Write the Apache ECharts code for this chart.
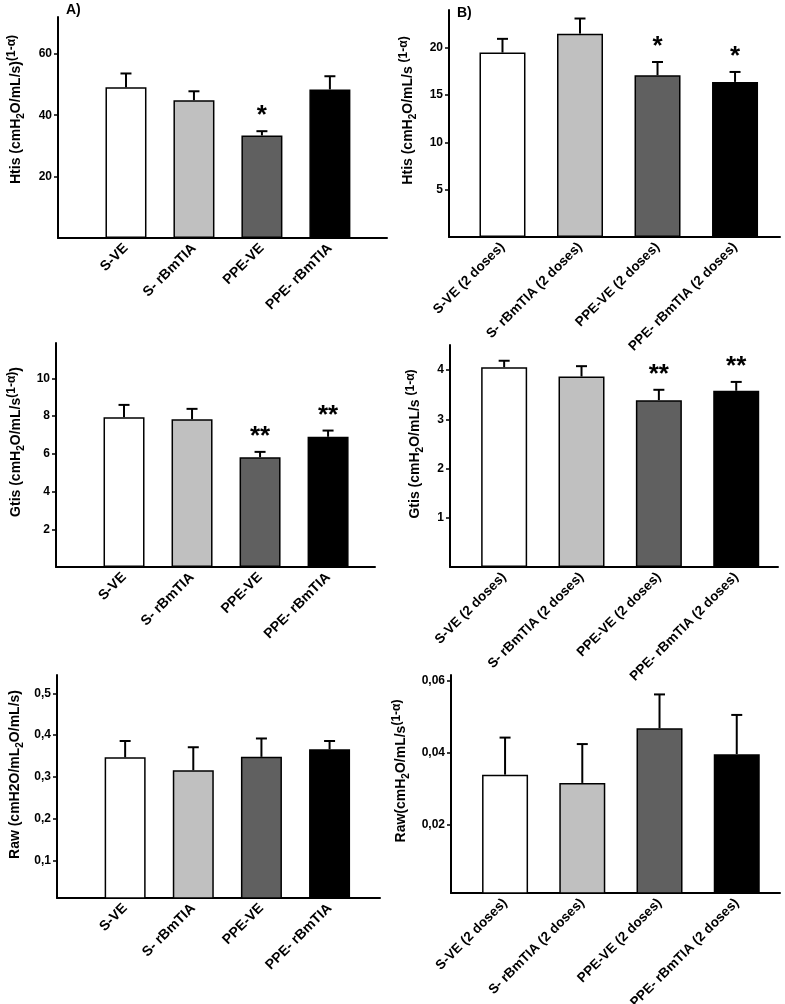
<!DOCTYPE html>
<html>
<head>
<meta charset="utf-8">
<script src="https://cdn.jsdelivr.net/npm/echarts@6/dist/echarts.min.js"></script>
<style>html,body{margin:0;padding:0;background:#fff}#c{width:785px;height:1004px}</style>
</head>
<body>
<div id="c"></div>
<script>
// ---- categories ----
const categoriesA = ['S-VE', 'S- rBmTIA', 'PPE-VE', 'PPE- rBmTIA'];
const categoriesB = ['S-VE (2 doses)', 'S- rBmTIA (2 doses)', 'PPE-VE (2 doses)', 'PPE- rBmTIA (2 doses)'];
const barColors = ['#ffffff', '#c0c0c0', '#606060', '#000000'];

// ---- Htis ----
const htisA = [49.1, 44.9, 33.4, 48.4];
const htisAErr = [4.5, 2.9, 1.4, 4.3];
const htisASig = ['', '', '*', ''];
const htisATicks = [20, 40, 60];

const htisB = [19.5, 21.5, 17.1, 16.4];
const htisBErr = [1.45, 1.6, 1.4, 1.05];
const htisBSig = ['', '', '*', '*'];
const htisBTicks = [5, 10, 15, 20];

// ---- Gtis ----
const gtisA = [7.94, 7.83, 5.82, 6.90];
const gtisAErr = [0.65, 0.55, 0.28, 0.33];
const gtisASig = ['', '', '**', '**'];
const gtisATicks = [2, 4, 6, 8, 10];

const gtisB = [4.06, 3.87, 3.39, 3.58];
const gtisBErr = [0.13, 0.21, 0.21, 0.18];
const gtisBSig = ['', '', '**', '**'];
const gtisBTicks = [1, 2, 3, 4];

// ---- Raw ----
const rawA = [0.347, 0.316, 0.348, 0.366];
const rawAErr = [0.039, 0.055, 0.044, 0.020];
const rawASig = ['', '', '', ''];
const rawATicks = [0.1, 0.2, 0.3, 0.4, 0.5];

const rawB = [0.0339, 0.0316, 0.0468, 0.0396];
const rawBErr = [0.0103, 0.0108, 0.0094, 0.0109];
const rawBSig = ['', '', '', ''];
const rawBTicks = [0.02, 0.04, 0.06];

const FONT = '"Liberation Sans", Arial, sans-serif';

const panels = [
  { cats: categoriesA, vals: htisA, errs: htisAErr, sig: htisASig, ticks: htisATicks,
    name: '{n|Htis (cmH}{sub|2}{n|O/mL/s)}{sup|(1-α)}',
    grid: { left: 58, top: 17, width: 329, height: 221 }, ymin: 0, ymax: 72,
    xmin: 0, xmax: 4.84, barWidth: 41, nameGap: 32, shift: 36, catSize: 14 },
  { cats: categoriesB, vals: htisB, errs: htisBErr, sig: htisBSig, ticks: htisBTicks,
    name: '{n|Htis (cmH}{sub|2}{n|O/mL/s }{sup|(1-α)}',
    grid: { left: 449, top: 10, width: 331, height: 227 }, ymin: 0, ymax: 24,
    xmin: 0.31, xmax: 4.58, barWidth: 46, nameGap: 31, shift: 26, catSize: 13.5 },
  { cats: categoriesA, vals: gtisA, errs: gtisAErr, sig: gtisASig, ticks: gtisATicks,
    name: '{n|Gtis (cmH}{sub|2}{n|O/mL/s}{sup|(1-α)}{n|)}',
    grid: { left: 56, top: 343, width: 319, height: 224 }, ymin: 0, ymax: 11.87,
    xmin: 0, xmax: 4.69, barWidth: 41, nameGap: 30, shift: 26, catSize: 14 },
  { cats: categoriesB, vals: gtisB, errs: gtisBErr, sig: gtisBSig, ticks: gtisBTicks,
    name: '{n|Gtis (cmH}{sub|2}{n|O/mL/s }{sup|(1-α)}',
    grid: { left: 450, top: 345, width: 328, height: 222 }, ymin: 0, ymax: 4.51,
    xmin: 0.30, xmax: 4.54, barWidth: 46, nameGap: 25, shift: 24, catSize: 13.5 },
  { cats: categoriesA, vals: rawA, errs: rawAErr, sig: rawASig, ticks: rawATicks,
    name: '{n|Raw (cmH2O/mL}{sub|2}{n|O/mL/s)}',
    grid: { left: 57, top: 675, width: 323, height: 223 }, ymin: 0.01, ymax: 0.544,
    xmin: 0, xmax: 4.74, barWidth: 41, nameGap: 32, shift: 24, catSize: 14 },
  { cats: categoriesB, vals: rawB, errs: rawBErr, sig: rawBSig, ticks: rawBTicks,
    name: '{n|Raw(cmH}{sub|2}{n|O/mL/s}{sup|(1-α)}',
    grid: { left: 451, top: 675, width: 329, height: 218 }, ymin: 0.001, ymax: 0.0616,
    xmin: 0.30, xmax: 4.56, barWidth: 46, nameGap: 40, shift: 26, catSize: 13.5 }
];

const grids = [], xAxes = [], yAxes = [], series = [];
panels.forEach((p, i) => {
  grids.push(Object.assign({ containLabel: false, outerBoundsMode: 'none' }, p.grid));
  xAxes.push({
    type: 'value', gridIndex: i, min: p.xmin, max: p.xmax,
    axisLine: { show: true, lineStyle: { color: '#000', width: 2 } },
    axisTick: { show: false }, splitLine: { show: false },
    axisLabel: {
      customValues: [1, 2, 3, 4], rotate: 45, margin: 8,
      formatter: v => p.cats[Math.round(v) - 1] || '',
      color: '#000', fontWeight: 'bold', fontSize: p.catSize, fontFamily: FONT
    }
  });
  yAxes.push({
    type: 'value', gridIndex: i, min: p.ymin, max: p.ymax,
    name: p.name, nameLocation: 'middle', nameRotate: 90, nameGap: p.nameGap,
    nameTextStyle: {
      padding: [0, 0, 0, p.shift],
      rich: {
        n: { fontSize: 14, fontWeight: 'bold', fontFamily: FONT, color: '#000', lineHeight: 20 },
        sub: { fontSize: 10, fontWeight: 'bold', fontFamily: FONT, color: '#000', lineHeight: 12, verticalAlign: 'bottom' },
        sup: { fontSize: 12, fontWeight: 'bold', fontFamily: FONT, color: '#000', lineHeight: 13, verticalAlign: 'top' }
      }
    },
    axisLine: { show: true, lineStyle: { color: '#000', width: 2 } },
    axisTick: { show: true, customValues: p.ticks, length: 4, lineStyle: { color: '#000', width: 1.5 } },
    splitLine: { show: false },
    axisLabel: {
      customValues: p.ticks, margin: 6,
      formatter: v => String(+v.toPrecision(6)).replace('.', ','),
      color: '#000', fontWeight: 'bold', fontSize: 12, fontFamily: FONT
    }
  });
  series.push({
    type: 'bar', xAxisIndex: i, yAxisIndex: i, barWidth: p.barWidth,
    data: p.vals.map((v, k) => ({ value: [k + 1, v], itemStyle: { color: barColors[k] } })),
    itemStyle: { borderColor: '#000', borderWidth: 1.5 },
    z: 2
  });
  series.push({
    type: 'custom', xAxisIndex: i, yAxisIndex: i, z: 3, clip: false,
    data: p.vals.map((v, k) => [k + 1, v, p.errs[k]]),
    renderItem: (params, api) => {
      const x = api.value(0), v = api.value(1), e = api.value(2);
      const b = api.coord([x, v]);
      const t = api.coord([x, v + e]);
      const s = p.sig[params.dataIndex];
      return {
        type: 'group',
        children: [
          { type: 'line', shape: { x1: t[0], y1: b[1], x2: t[0], y2: t[1] }, style: { stroke: '#000', lineWidth: 2 } },
          { type: 'line', shape: { x1: t[0] - 5.5, y1: t[1], x2: t[0] + 5.5, y2: t[1] }, style: { stroke: '#000', lineWidth: 2 } },
          { type: 'text', style: { text: s, x: t[0], y: t[1] - 2, textAlign: 'center', textVerticalAlign: 'bottom',
              font: 'bold 26px "Liberation Sans", Arial, sans-serif', fill: '#000' } }
        ]
      };
    }
  });
});

const chart = echarts.init(document.getElementById('c'), null, { renderer: 'canvas' });
chart.setOption({
  animation: false,
  backgroundColor: '#fff',
  title: [
    { text: 'A)', left: 66, top: 3, textStyle: { fontSize: 14, fontWeight: 'bold', fontFamily: FONT, color: '#000' }, padding: 0 },
    { text: 'B)', left: 457, top: 6, textStyle: { fontSize: 14, fontWeight: 'bold', fontFamily: FONT, color: '#000' }, padding: 0 }
  ],
  grid: grids, xAxis: xAxes, yAxis: yAxes, series: series
});
</script>
</body>
</html>
